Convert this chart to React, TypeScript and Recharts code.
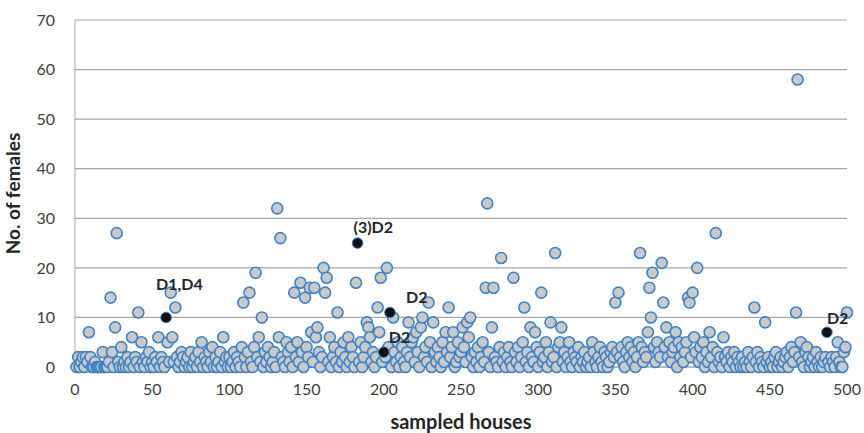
import { CartesianGrid, Label, Scatter, ScatterChart, XAxis, YAxis } from "recharts";

// number of females per sampled house, houses 1..500
const femaleCounts = [
  0, 2, 0, 1, 2, 0, 2, 1, 7, 2, 0, 0, 1, 0, 0, 0, 0, 3, 0, 0, 0, 1, 14, 3, 0,
  8, 27, 1, 0, 4, 0, 1, 0, 2, 0, 1, 6, 0, 2, 1, 11, 0, 5, 1, 0, 2, 1, 3, 0, 1,
  0, 2, 1, 6, 0, 2, 1, 0, 2, 5, 1, 15, 6, 1, 12, 2, 0, 1, 3, 2, 0, 1, 2, 0, 3,
  0, 1, 2, 0, 3, 1, 5, 0, 2, 1, 0, 3, 1, 4, 0, 2, 0, 1, 3, 0, 6, 1, 2, 0, 2,
  0, 1, 3, 0, 2, 1, 0, 4, 13, 2, 0, 3, 15, 1, 0, 4, 19, 2, 6, 1, 10, 0, 3, 1, 4,
  2, 0, 1, 3, 0, 32, 6, 26, 2, 1, 0, 5, 3, 1, 4, 0, 15, 2, 5, 1, 17, 3, 0, 14, 4,
  2, 16, 7, 1, 16, 6, 8, 3, 0, 2, 20, 15, 18, 1, 6, 0, 2, 4, 1, 11, 0, 3, 1, 5, 2,
  0, 6, 1, 4, 2, 0, 17, 3, 1, 5, 0, 2, 4, 9, 8, 6, 1, 3, 0, 2, 12, 7, 18, 1, 5,
  2, 20, 4, 1, 0, 10, 3, 1, 5, 0, 2, 4, 1, 0, 3, 9, 2, 5, 6, 1, 7, 3, 0, 8, 10,
  2, 4, 1, 13, 5, 0, 9, 3, 1, 4, 2, 0, 5, 1, 7, 3, 12, 2, 4, 7, 0, 1, 5, 2, 3,
  8, 4, 1, 9, 6, 10, 2, 0, 3, 1, 4, 0, 2, 5, 1, 16, 33, 3, 0, 8, 16, 2, 1, 0, 4,
  22, 1, 3, 0, 2, 4, 1, 0, 18, 3, 1, 4, 0, 2, 5, 12, 1, 3, 0, 8, 2, 1, 7, 4, 0,
  3, 15, 1, 2, 5, 0, 3, 9, 1, 2, 23, 0, 4, 5, 8, 1, 3, 0, 2, 5, 1, 0, 3, 2, 1,
  4, 0, 2, 1, 3, 0, 1, 2, 0, 5, 3, 1, 0, 2, 4, 1, 0, 3, 2, 0, 1, 3, 4, 2, 13,
  3, 15, 2, 4, 1, 0, 3, 5, 2, 4, 1, 3, 0, 2, 5, 23, 4, 1, 3, 2, 7, 16, 10, 19, 4,
  1, 5, 3, 2, 21, 13, 4, 8, 2, 5, 1, 3, 4, 7, 0, 5, 2, 4, 1, 3, 5, 14, 13, 2, 15,
  6, 3, 20, 1, 4, 2, 5, 0, 3, 1, 7, 2, 4, 0, 27, 3, 1, 2, 0, 6, 2, 1, 3, 0, 2,
  1, 3, 0, 2, 1, 0, 2, 0, 1, 0, 3, 1, 0, 2, 12, 1, 3, 0, 2, 1, 0, 9, 1, 2, 0,
  1, 0, 2, 3, 0, 1, 2, 0, 1, 2, 3, 0, 2, 4, 1, 3, 11, 58, 2, 5, 1, 0, 3, 4, 2,
  0, 1, 2, 0, 3, 1, 0, 2, 0, 1, 2, 0, 1, 0, 2, 1, 0, 2, 5, 1, 0, 0, 3, 4, 11,
];

// marked houses
const markedHouses = [59, 183, 200, 204, 487];
const markedCounts = [10, 25, 3, 11, 7];
const markedLabels = ["D1,D4", "(3)D2", "D2", "D2", "D2"];
const markedLabelOffsets = [
  { dx: -10, dy: -27 },
  { dx: -4, dy: -10 },
  { dx: 5, dy: -9 },
  { dx: 16, dy: -9 },
  { dx: 0, dy: -8 },
];

const xTicks = [0, 50, 100, 150, 200, 250, 300, 350, 400, 450, 500];
const yTicks = [0, 10, 20, 30, 40, 50, 60, 70];

const houseData = femaleCounts
  .map((count, i) => ({ house: i + 1, females: count }))
  .filter((d) => !markedHouses.includes(d.house));

const markedData = markedHouses.map((house, i) => ({
  house,
  females: markedCounts[i],
  label: markedLabels[i],
  idx: i,
}));

const FONT = "Lato, 'Open Sans', sans-serif";

const GrayDot = (props: any) => (
  <circle cx={props.cx} cy={props.cy} r={5.5} fill="#c9c9c9" stroke="#3f83c6" strokeWidth={1.6} />
);

const MarkedDot = (props: any) => {
  const off = markedLabelOffsets[props.payload.idx];
  return (
    <g>
      <circle cx={props.cx} cy={props.cy} r={5.3} fill="#111111" stroke="#3f83c6" strokeWidth={1} />
      <text
        x={props.cx + off.dx}
        y={props.cy + off.dy}
        fontFamily={FONT}
        fontWeight={700}
        fontSize={16}
        fill="#262626"
      >
        {props.payload.label}
      </text>
    </g>
  );
};

export default function App() {
  return (
    <div style={{ position: "absolute", left: 0, top: 0, width: 864, height: 433, background: "#fff" }}>
      <ScatterChart width={864} height={433} margin={{ top: 20, right: 17, bottom: 0, left: 0 }}>
        <CartesianGrid vertical={false} stroke="#a6a6a6" strokeWidth={1.2} />
        <XAxis
          type="number"
          dataKey="house"
          domain={[0, 500]}
          ticks={xTicks}
          height={66}
          axisLine={{ stroke: "#a6a6a6" }}
          tickLine={false}
          tickSize={0}
          tickMargin={17}
          tick={{ fontFamily: FONT, fontSize: 16, fill: "#404040" }}
        >
          <Label
            value="sampled houses"
            position="insideBottom"
            offset={4}
            style={{ fontFamily: FONT, fontSize: 20, fontWeight: 700, fill: "#262626" }}
          />
        </XAxis>
        <YAxis
          type="number"
          dataKey="females"
          domain={[0, 70]}
          ticks={yTicks}
          width={75}
          axisLine={{ stroke: "#a6a6a6" }}
          tickLine={false}
          tickSize={0}
          tickMargin={20}
          tick={{ fontFamily: FONT, fontSize: 16, fill: "#404040" }}
        >
          <Label
            value="No. of females"
            angle={-90}
            position="insideLeft"
            offset={13}
            style={{ fontFamily: FONT, fontSize: 19, fontWeight: 700, fill: "#262626", textAnchor: "middle" }}
          />
        </YAxis>
        <Scatter data={houseData} shape={GrayDot} isAnimationActive={false} />
        <Scatter data={markedData} shape={MarkedDot} isAnimationActive={false} />
      </ScatterChart>
    </div>
  );
}
